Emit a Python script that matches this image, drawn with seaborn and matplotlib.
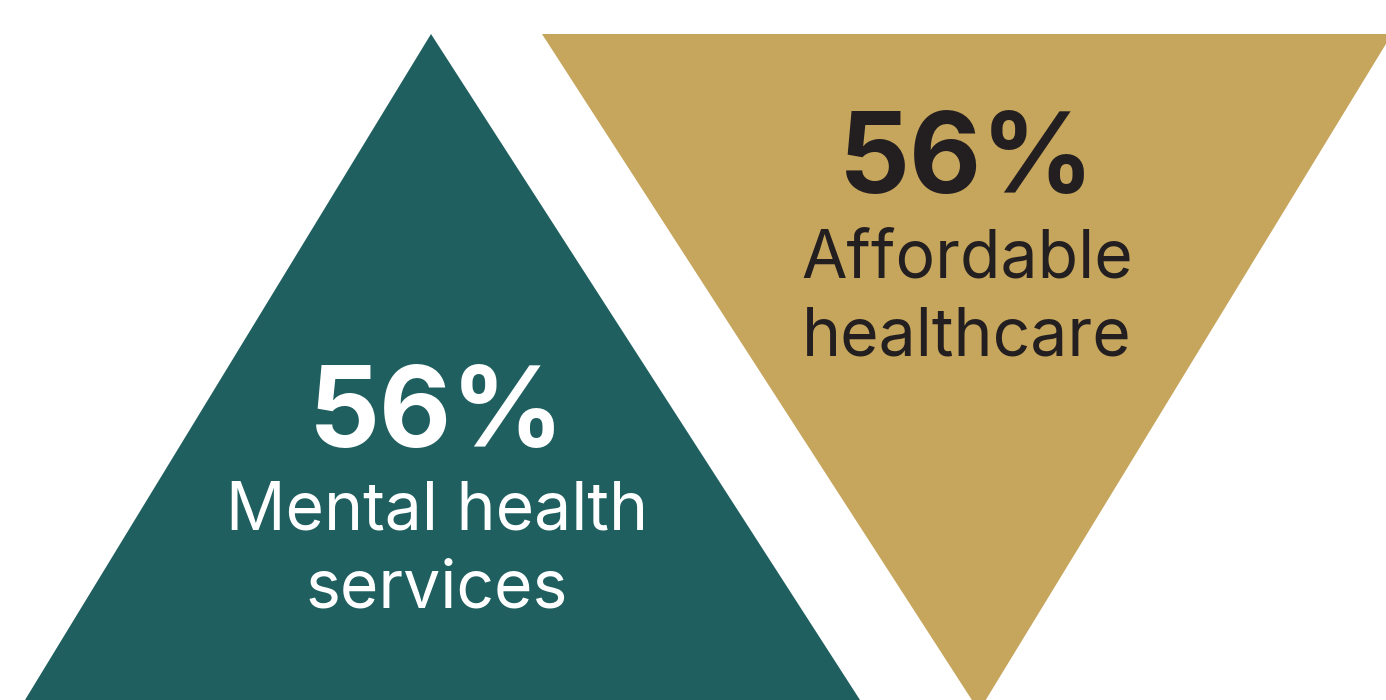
import matplotlib
matplotlib.use("Agg")
import matplotlib.pyplot as plt
import seaborn as sns

sns.set_theme(style="white")
plt.rcParams['font.family'] = ['Inter', 'DejaVu Sans']

# Data
categories = ["Mental health\nservices", "Affordable\nhealthcare"]
values = [56, 56]
colors = ["#1F5F5F", "#C6A55C"]
text_colors = ["#FFFFFF", "#231F20"]

fig = plt.figure(figsize=(13.86, 7.0), dpi=100)
ax = fig.add_axes([0, 0, 1, 1])
ax.set_xlim(0, 1386)
ax.set_ylim(700, 0)
ax.axis("off")

# Triangles (layout shapes)
shapes = [
    [(431, 34), (25, 700), (860, 700)],
    [(542, 34), (1392, 34), (979, 711)],
]
big_pos = [(437, 447), (967, 193)]
lab_pos = [(437, 530), (967, 277)]
line_gap = 78

for shp, col in zip(shapes, colors):
    xs = [p[0] for p in shp]
    ys = [p[1] for p in shp]
    ax.fill(xs, ys, color=col, lw=0)

for val, cat, tc, bp, lp in zip(values, categories, text_colors, big_pos, lab_pos):
    ax.text(bp[0], bp[1], f"{val}%", ha="center", va="baseline",
            fontsize=80, fontweight="bold", color=tc)
    for i, line in enumerate(cat.split("\n")):
        ax.text(lp[0], lp[1] + i * line_gap, line, ha="center", va="baseline",
                fontsize=47.5, fontweight="normal", color=tc)

fig.savefig("out.png", dpi=100)
